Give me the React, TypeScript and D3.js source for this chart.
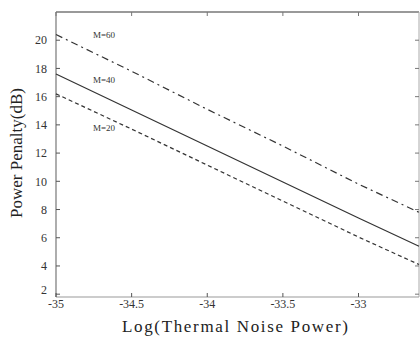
import React from "react";
import * as d3 from "d3";

const xValues = [-35, -34.5, -34, -33.5, -33, -32.6];
const seriesTop = [20.4, 17.8, 15.1, 12.5, 9.8, 7.8];
const seriesMid = [17.6, 15.05, 12.5, 9.95, 7.4, 5.4];
const seriesBot = [16.2, 13.7, 11.15, 8.6, 6.05, 4.1];
const seriesLabels = ["M=60", "M=40", "M=20"];
const xTicks = [-35, -34.5, -34, -33.5, -33];
const yTicks = [2, 4, 6, 8, 10, 12, 14, 16, 18, 20];

const W = 420;
const H = 341;
const left = 56;
const right = 419;
const top = 12;
const bottom = 297;

export default function App() {
  const x = d3.scaleLinear().domain([-35, -32.6]).range([left, right]);
  const y = d3.scaleLinear().domain([1.8, 22]).range([bottom, top]);
  const line = d3
    .line<[number, number]>()
    .x((d) => x(d[0]))
    .y((d) => y(d[1]));
  const mk = (vals: number[]) => xValues.map((v, i) => [v, vals[i]] as [number, number]);
  const font = "Liberation Serif, DejaVu Serif, serif";
  const fmt = (v: number) => (Number.isInteger(v) ? String(v) : v.toFixed(1));

  return (
    <svg
      width={W}
      height={H}
      style={{ position: "absolute", left: 0, top: 0, background: "#fff", fontFamily: font }}
    >
      <rect x={0} y={0} width={W} height={H} fill="#fff" />
      <line x1={left} x2={right} y1={top} y2={top} stroke="#777" strokeWidth={1.5} />
      <line x1={right} x2={right} y1={top} y2={bottom} stroke="#aaa" strokeWidth={1} />
      <line x1={left} x2={right} y1={bottom} y2={bottom} stroke="#999" strokeWidth={1} />
      <line x1={left} x2={left} y1={top} y2={bottom} stroke="#777" strokeWidth={1.2} />
      {yTicks.map((t) => (
        <g key={"y" + t}>
          <line x1={left} x2={left + 4} y1={y(t)} y2={y(t)} stroke="#555" />
          <line x1={right - 4} x2={right} y1={y(t)} y2={y(t)} stroke="#777" />
          <text
            x={left - 9}
            y={t === 2 ? y(t) - 4 : y(t)}
            dy="0.35em"
            textAnchor="end"
            fontSize={12}
            fill="#333"
            style={{ fontFamily: font }}
          >
            {t}
          </text>
        </g>
      ))}
      {xTicks.map((t) => (
        <g key={"x" + t}>
          <line x1={x(t)} x2={x(t)} y1={bottom} y2={bottom - 4} stroke="#555" />
          <line x1={x(t)} x2={x(t)} y1={top} y2={top + 4} stroke="#777" />
          <text
            x={x(t)}
            y={bottom + 11}
            textAnchor="middle"
            fontSize={12}
            fill="#333"
            style={{ fontFamily: font }}
          >
            {fmt(t)}
          </text>
        </g>
      ))}
      <path
        d={line(mk(seriesTop)) || ""}
        fill="none"
        stroke="#333"
        strokeWidth={1.2}
        strokeDasharray="7,4,2,4"
      />
      <path d={line(mk(seriesMid)) || ""} fill="none" stroke="#333" strokeWidth={1.2} />
      <path
        d={line(mk(seriesBot)) || ""}
        fill="none"
        stroke="#333"
        strokeWidth={1.2}
        strokeDasharray="4,3"
      />
      <text x={93} y={35} dy="0.35em" fontSize={9} fill="#333" style={{ fontFamily: font }}>
        {seriesLabels[0]}
      </text>
      <text x={93} y={80} dy="0.35em" fontSize={9} fill="#333" style={{ fontFamily: font }}>
        {seriesLabels[1]}
      </text>
      <text x={93} y={128} dy="0.35em" fontSize={9} fill="#333" style={{ fontFamily: font }}>
        {seriesLabels[2]}
      </text>
      <text
        x={235}
        y={332}
        textAnchor="middle"
        fontSize={17}
        fill="#222"
        textLength={226}
        lengthAdjust="spacing"
        style={{ fontFamily: font }}
      >
        Log(Thermal Noise Power)
      </text>
      <text
        transform={`translate(22, 153) rotate(-90)`}
        textAnchor="middle"
        fontSize={17}
        fill="#222"
        style={{ fontFamily: font }}
      >
        Power Penalty(dB)
      </text>
    </svg>
  );
}
